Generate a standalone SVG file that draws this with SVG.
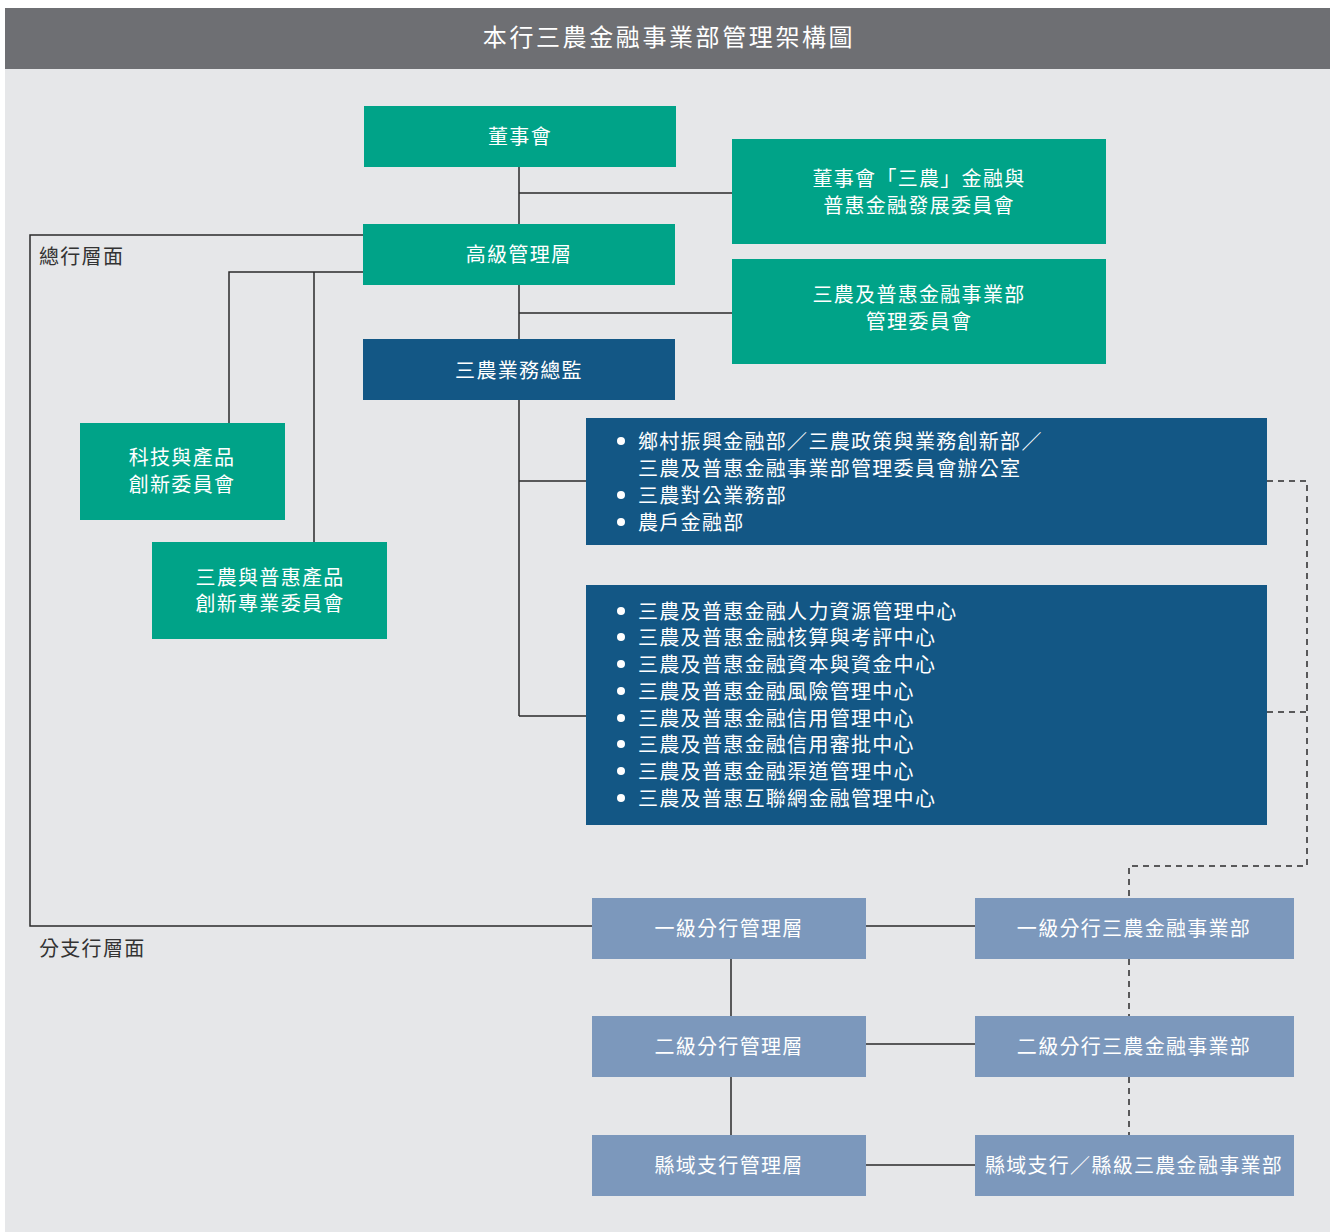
<svg xmlns="http://www.w3.org/2000/svg" width="1330" height="1232" viewBox="0 0 1330 1232">
<style>
text{font-family:"Noto Sans CJK TC","Noto Sans CJK SC",sans-serif;font-size:20px;letter-spacing:1.3px}
.w{fill:#ffffff}
.c{text-anchor:middle}
.d{fill:#333333}
.g{fill:#00a388}
.b{fill:#135785}
.l{fill:#7c98bc}
.s{fill:none;stroke:#2b2b2b;stroke-width:1.5}
.ds{fill:none;stroke:#2b2b2b;stroke-width:1.5;stroke-dasharray:6 5}
</style>
<rect x="0" y="0" width="1330" height="1232" fill="#ffffff"/>
<rect x="5" y="8" width="1325" height="1224" fill="#e6e7e9"/>
<rect x="5" y="8" width="1325" height="61" fill="#6e6f73"/>
<text x="669" y="46" class="w c" style="font-size:24px;letter-spacing:2.6px">本行三農金融事業部管理架構圖</text>
<text x="39" y="264" class="d">總行層面</text>
<text x="39" y="956" class="d">分支行層面</text>
<g id="connectors">
<path class="s" d="M519 167V716M519 193H732M519 313H732M519 481H586M519 716H586"/>
<path class="s" d="M363 235H30V926H592"/>
<path class="s" d="M363 272H229V423M314 272V542"/>
<path class="s" d="M731 959V1016M731 1077V1135M866 926H975M866 1044H975M866 1165H975"/>
<path class="ds" d="M1267 481H1307V866H1129V898M1267 712H1307"/>
<path class="ds" d="M1129 959V1016M1129 1077V1135"/>
</g>
<g id="n1"><rect class="g" x="364" y="106" width="312" height="61"/><text x="520" y="144" class="w c">董事會</text></g>
<g id="n2"><rect class="g" x="363" y="224" width="312" height="61"/><text x="519" y="262" class="w c">高級管理層</text></g>
<g id="n3"><rect class="b" x="363" y="339" width="312" height="61"/><text x="519" y="378" class="w c">三農業務總監</text></g>
<g id="n4"><rect class="g" x="732" y="139" width="374" height="105"/><text x="919" y="186" class="w c">董事會「三農」金融與</text><text x="919" y="213" class="w c">普惠金融發展委員會</text></g>
<g id="n5"><rect class="g" x="732" y="259" width="374" height="105"/><text x="919" y="302" class="w c">三農及普惠金融事業部</text><text x="919" y="329" class="w c">管理委員會</text></g>
<g id="n6"><rect class="g" x="80" y="423" width="205" height="97"/><text x="182" y="465" class="w c">科技與產品</text><text x="182" y="492" class="w c">創新委員會</text></g>
<g id="n7"><rect class="g" x="152" y="542" width="235" height="97"/><text x="270" y="585" class="w c">三農與普惠產品</text><text x="270" y="611" class="w c">創新專業委員會</text></g>
<g id="n8"><rect class="b" x="586" y="418" width="681" height="127"/>
<g class="w"><circle cx="621" cy="441" r="4"/><circle cx="621" cy="495" r="4"/><circle cx="621" cy="522" r="4"/></g>
<text x="638" y="449" class="w">鄉村振興金融部／三農政策與業務創新部／</text>
<text x="638" y="476" class="w">三農及普惠金融事業部管理委員會辦公室</text>
<text x="638" y="503" class="w">三農對公業務部</text>
<text x="638" y="530" class="w">農戶金融部</text>
</g>
<g id="n9"><rect class="b" x="586" y="585" width="681" height="240"/>
<g class="w"><circle cx="621" cy="611" r="4"/><circle cx="621" cy="637" r="4"/><circle cx="621" cy="664" r="4"/><circle cx="621" cy="691" r="4"/><circle cx="621" cy="718" r="4"/><circle cx="621" cy="744" r="4"/><circle cx="621" cy="771" r="4"/><circle cx="621" cy="798" r="4"/></g>
<text x="638" y="619" class="w">三農及普惠金融人力資源管理中心</text>
<text x="638" y="645" class="w">三農及普惠金融核算與考評中心</text>
<text x="638" y="672" class="w">三農及普惠金融資本與資金中心</text>
<text x="638" y="699" class="w">三農及普惠金融風險管理中心</text>
<text x="638" y="726" class="w">三農及普惠金融信用管理中心</text>
<text x="638" y="752" class="w">三農及普惠金融信用審批中心</text>
<text x="638" y="779" class="w">三農及普惠金融渠道管理中心</text>
<text x="638" y="806" class="w">三農及普惠互聯網金融管理中心</text>
</g>
<g id="n10"><rect class="l" x="592" y="898" width="274" height="61"/><text x="729" y="936" class="w c">一級分行管理層</text></g>
<g id="n11"><rect class="l" x="592" y="1016" width="274" height="61"/><text x="729" y="1054" class="w c">二級分行管理層</text></g>
<g id="n12"><rect class="l" x="592" y="1135" width="274" height="61"/><text x="729" y="1173" class="w c">縣域支行管理層</text></g>
<g id="n13"><rect class="l" x="975" y="898" width="319" height="61"/><text x="1134" y="936" class="w c">一級分行三農金融事業部</text></g>
<g id="n14"><rect class="l" x="975" y="1016" width="319" height="61"/><text x="1134" y="1054" class="w c">二級分行三農金融事業部</text></g>
<g id="n15"><rect class="l" x="975" y="1135" width="319" height="61"/><text x="1134" y="1173" class="w c">縣域支行／縣級三農金融事業部</text></g>
</svg>
